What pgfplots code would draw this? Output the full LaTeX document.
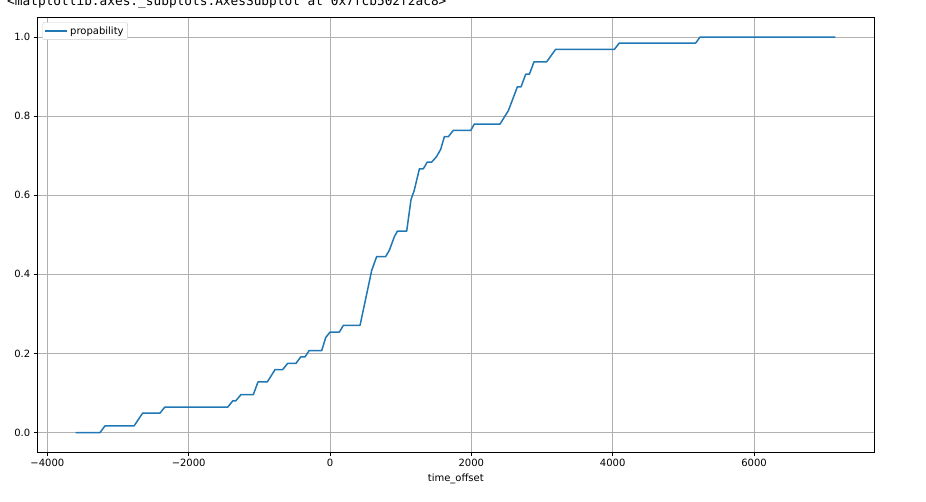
\documentclass[border=0pt]{standalone}
\usepackage{pgfplots}
\pgfplotsset{compat=1.18}
\usepackage{fontspec}
\setmainfont{DejaVu Sans}
\newfontfamily\monofont{DejaVu Sans Mono}
\definecolor{mplblue}{HTML}{1F77B4}
\definecolor{mplgrid}{HTML}{B0B0B0}

\begin{document}
\begin{tikzpicture}[x=1pt,y=1pt]
  \useasboundingbox (0,0) rectangle (926,501);
  \node[anchor=base west, inner sep=0pt, font=\monofont\fontsize{12.8}{14}\selectfont]
    at (7,495) {<matplotlib.axes.\_subplots.AxesSubplot at 0x7fcb502f2ac8>};
  \begin{axis}[
      at={(37.3pt,48.7pt)}, anchor=south west,
      width=837pt, height=435pt, scale only axis,
      xmin=-4142, xmax=7702,
      ymin=-0.05, ymax=1.05,
      xtick={-4000,-2000,0,2000,4000,6000},
      xticklabels={−4000,−2000,0,2000,4000,6000},
      ytick={0,0.2,0.4,0.6,0.8,1.0},
      yticklabel style={/pgf/number format/.cd, fixed, fixed zerofill, precision=1},
      /pgf/number format/assume math mode=true,
      tick label style={font=\fontsize{10}{12}\selectfont},
      xtick pos=bottom, ytick pos=left,
      tick align=outside, major tick length=3.5pt,
      tick style={black, line width=0.8pt},
      axis line style={line width=0.8pt},
      grid=major,
      major grid style={mplgrid, line width=0.8pt},
      xlabel={time\_offset},
      xlabel style={font=\fontsize{10}{12}\selectfont},
      legend style={font=\fontsize{10}{12}\selectfont, draw=black!20, rounded corners=2pt,
        at={(0.006,0.9885)}, anchor=north west, inner xsep=2pt, inner ysep=2pt},
      legend image post style={xscale=1.3},
      legend cell align=left,
    ]
    \addplot[mplblue, line width=1.5pt, line join=round] coordinates {
      (-3600,0) (-3255,0) (-3184,0.0167) (-2773,0.0167) (-2651,0.049) (-2406,0.049)
      (-2340,0.064) (-1448,0.064) (-1377,0.080) (-1335,0.080) (-1259,0.096) (-1085,0.096)
      (-1019,0.128) (-887,0.128) (-778,0.159) (-670,0.159) (-599,0.175) (-481,0.175)
      (-415,0.191) (-354,0.191) (-297,0.207) (-118,0.207) (-61,0.240) (0,0.254)
      (132,0.254) (189,0.271) (425,0.271) (590,0.410) (660,0.445) (788,0.445)
      (840,0.461) (910,0.495) (953,0.509) (1085,0.509) (1146,0.589) (1193,0.613)
      (1265,0.667) (1321,0.667) (1377,0.684) (1439,0.684) (1505,0.697) (1566,0.716)
      (1618,0.748) (1674,0.748) (1745,0.764) (1991,0.764) (2042,0.780) (2406,0.780)
      (2524,0.814) (2651,0.874) (2703,0.874) (2769,0.906) (2821,0.906) (2887,0.9375)
      (3066,0.9375) (3193,0.969) (4024,0.969) (4094,0.985) (5175,0.985) (5236,1.0)
      (7150,1.0)
    };
    \addlegendentry{propability}
  \end{axis}
\end{tikzpicture}
\end{document}
